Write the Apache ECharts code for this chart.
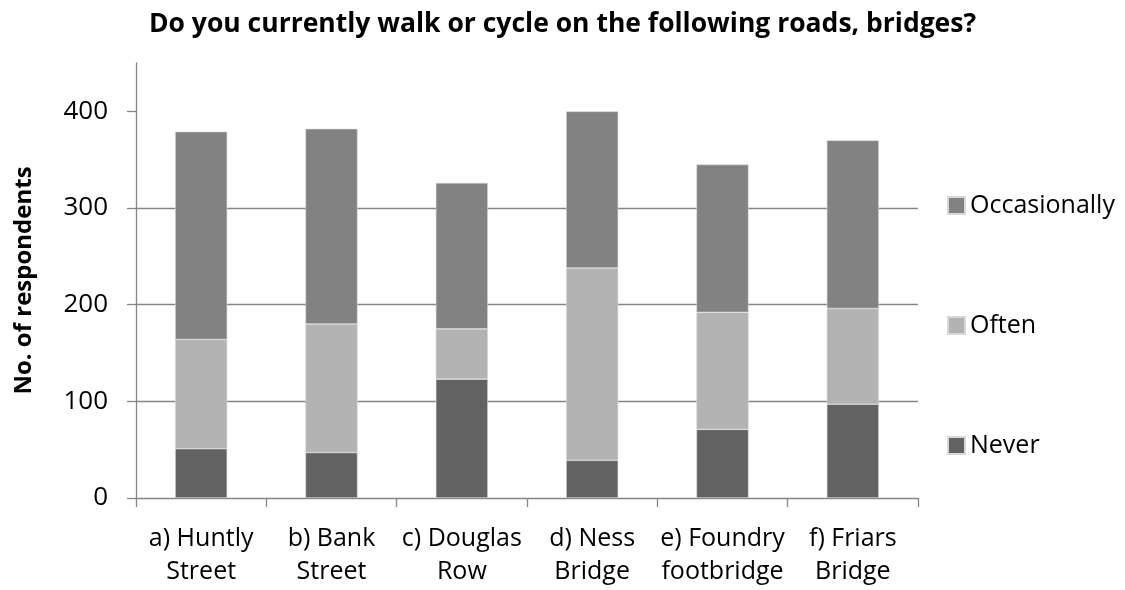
<!DOCTYPE html>
<html>
<head>
<meta charset="utf-8">
<script src="https://cdn.jsdelivr.net/npm/echarts@6/dist/echarts.min.js"></script>
<style>
  html, body { margin: 0; padding: 0; background: #fff; }
  #chart { width: 1125px; height: 590px; }
</style>
</head>
<body>
<div id="chart"></div>
<script>
// road / bridge names (two lines each, as on the axis)
var categories = [
  'a) Huntly\nStreet',
  'b) Bank\nStreet',
  'c) Douglas\nRow',
  'd) Ness\nBridge',
  'e) Foundry\nfootbridge',
  'f) Friars\nBridge'
];
var neverData = [51, 47, 123, 39, 71, 97];
var oftenData = [113, 133, 52, 199, 121, 99];
var occasionallyData = [215, 202, 151, 162, 153, 174];
var yTicks = [0, 100, 200, 300, 400];

var FONT = '"Open Sans", "Noto Sans", sans-serif';
var GREY_LINE = '#868686';

var chart = echarts.init(document.getElementById('chart'));

function barSeries(name, data, color) {
  return {
    name: name,
    type: 'bar',
    stack: 'total',
    barWidth: '40%',
    data: data,
    itemStyle: { color: color, borderColor: '#d8d8d8', borderWidth: 0.6 },
    emphasis: { disabled: true }
  };
}

chart.setOption({
  animation: false,
  title: {
    text: 'Do you currently walk or cycle on the following roads, bridges?',
    left: 'center',
    top: 6,
    textStyle: { fontFamily: FONT, fontSize: 26.5, fontWeight: 'bold', color: '#000' }
  },
  legend: {
    orient: 'vertical',
    left: 947,
    top: 193,
    padding: 0,
    itemWidth: 17,
    itemHeight: 17,
    itemGap: 95,
    icon: 'rect',
    data: ['Occasionally', 'Often', 'Never'],
    textStyle: { fontFamily: FONT, fontSize: 25, color: '#000' }
  },
  grid: { left: 136, right: 207, top: 63, bottom: 92 },
  xAxis: {
    type: 'category',
    data: categories,
    axisLine: { lineStyle: { color: GREY_LINE, width: 1.3 } },
    axisTick: { show: true, length: 9, alignWithLabel: false, lineStyle: { color: GREY_LINE, width: 1.3 } },
    axisLabel: {
      interval: 0,
      margin: 24,
      fontFamily: FONT,
      fontSize: 25,
      lineHeight: 33,
      color: '#000'
    }
  },
  yAxis: {
    type: 'value',
    min: 0,
    max: 450,
    interval: 100,
    name: 'No. of respondents',
    nameLocation: 'middle',
    nameGap: 100,
    nameTextStyle: { fontFamily: FONT, fontSize: 24, fontWeight: 'bold', color: '#000' },
    axisLine: { show: true, lineStyle: { color: GREY_LINE, width: 1.3 } },
    axisTick: { show: true, length: 9, customValues: yTicks, lineStyle: { color: GREY_LINE, width: 1.3 } },
    axisLabel: { customValues: yTicks, margin: 28, fontFamily: FONT, fontSize: 26, color: '#000' },
    splitLine: { show: true, showMinLine: false, showMaxLine: false, lineStyle: { color: GREY_LINE, width: 1.3 } }
  },
  series: [
    barSeries('Never', neverData, '#626262'),
    barSeries('Often', oftenData, '#b3b3b3'),
    barSeries('Occasionally', occasionallyData, '#828282')
  ]
});
</script>
</body>
</html>
